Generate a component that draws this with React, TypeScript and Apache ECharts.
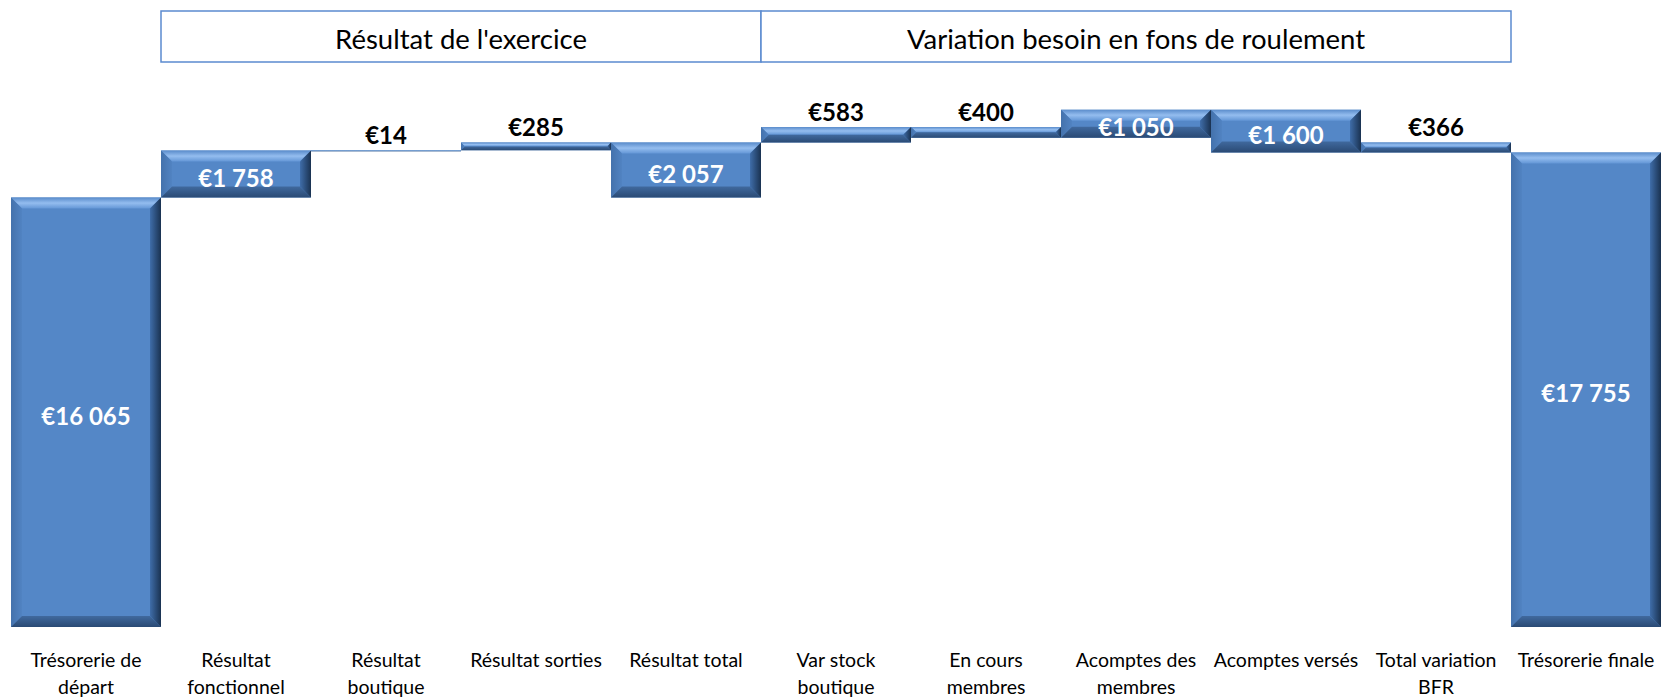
import React, { useEffect, useRef } from "react";
import * as echarts from "echarts";

const categories = [
  "Trésorerie de\ndépart",
  "Résultat\nfonctionnel",
  "Résultat\nboutique",
  "Résultat sorties",
  "Résultat total",
  "Var stock\nboutique",
  "En cours\nmembres",
  "Acomptes des\nmembres",
  "Acomptes versés",
  "Total variation\nBFR",
  "Trésorerie finale",
];
const amounts = [16065, 1758, 14, 285, 2057, 583, -400, 1050, -1600, -366, 17755];
const kinds = ["total", "delta", "delta", "delta", "subtotal", "delta", "delta", "delta", "delta", "subtotal", "total"];
const headers = [
  { label: "Résultat de l'exercice", from: 1, to: 4 },
  { label: "Variation besoin en fons de roulement", from: 5, to: 9 },
];

function buildSpans() {
  let level = 0;
  let groupStart = 0;
  const out: number[][] = [];
  amounts.forEach((v, i) => {
    const k = kinds[i];
    let lo = 0;
    let hi = 0;
    if (k === "total") {
      lo = 0;
      hi = v;
      level = v;
      groupStart = level;
    } else if (k === "delta") {
      lo = level;
      hi = level + v;
      level = hi;
    } else {
      lo = groupStart;
      hi = groupStart + v;
      level = hi;
      groupStart = level;
    }
    out.push([i, Math.min(lo, hi), Math.max(lo, hi)]);
  });
  return out;
}

function fmt(v: number) {
  const s = String(Math.abs(v)).replace(/\B(?=(\d{3})+(?!\d))/g, " ");
  return "€" + s;
}

const FONT = "Lato, 'Open Sans', sans-serif";

export default function App() {
  const ref = useRef<HTMLDivElement>(null);
  useEffect(() => {
    document.body.style.margin = "0";
    const chart = echarts.init(ref.current!, null, { renderer: "svg" });
    const spans = buildSpans();
    const renderItem = (params: any, api: any) => {
      const idx = api.value(0);
      const lo = api.value(1);
      const hi = api.value(2);
      const pLo = api.coord([idx, lo]);
      const pHi = api.coord([idx, hi]);
      const w = api.size([1, 0])[0];
      const x = pLo[0] - w / 2;
      const y = Math.min(pLo[1], pHi[1]);
      const h = Math.max(Math.abs(pLo[1] - pHi[1]), 1);
      const b = Math.min(11, h / 2, w / 2);
      const lin = (x1: number, y1: number, x2: number, y2: number, stops: [number, string][]) =>
        new echarts.graphic.LinearGradient(x1, y1, x2, y2, stops.map(([o, c]) => ({ offset: o, color: c })));
      const text = fmt(amounts[params.dataIndex]);
      const inside = h > 25;
      return {
        type: "group",
        children: [
          { type: "rect", shape: { x, y, width: w, height: h }, style: { fill: "#5487C7" } },
          {
            type: "polygon",
            shape: { points: [[x, y], [x + w, y], [x + w - b, y + b], [x + b, y + b]] },
            style: { fill: lin(0, 0, 0, 1, [[0, "#5A8CCB"], [0.5, "#94BDEF"], [1, "#6396D6"]]) },
          },
          {
            type: "polygon",
            shape: { points: [[x, y], [x + b, y + b], [x + b, y + h - b], [x, y + h]] },
            style: { fill: lin(0, 0, 1, 0, [[0, "#4472AC"], [1, "#5183C2"]]) },
          },
          {
            type: "polygon",
            shape: { points: [[x, y + h], [x + w, y + h], [x + w - b, y + h - b], [x + b, y + h - b]] },
            style: { fill: lin(0, 0, 0, 1, [[0, "#40699E"], [1, "#2A4A74"]]) },
          },
          {
            type: "polygon",
            shape: { points: [[x + w, y], [x + w - b, y + b], [x + w - b, y + h - b], [x + w, y + h]] },
            style: { fill: lin(0, 0, 1, 0, [[0, "#3F6DA9"], [1, "#1A3251"]]) },
          },
          {
            type: "text",
            x: x + w / 2,
            y: inside ? y + h / 2 + 3 : y - 4,
            style: {
              text,
              fill: inside ? "#ffffff" : "#000000",
              fontSize: 24,
              fontWeight: "bold",
              fontFamily: FONT,
              align: "center",
              verticalAlign: inside ? "middle" : "bottom",
            },
          },
        ],
      };
    };
    chart.setOption({
      animation: false,
      backgroundColor: "#ffffff",
      grid: { left: 11, right: 2, top: 92.4, bottom: 66 },
      xAxis: {
        type: "category",
        data: categories,
        axisLine: { show: false },
        axisTick: { show: false },
        axisLabel: {
          interval: 0,
          margin: 19,
          color: "#000000",
          fontSize: 19.5,
          lineHeight: 27,
          fontFamily: FONT,
        },
      },
      yAxis: { type: "value", min: 0, max: 20000, show: false },
      series: [
        {
          type: "custom",
          renderItem,
          data: spans,
          encode: { x: 0, y: [1, 2] },
        },
      ],
    });
    const graphics: any[] = [];
    headers.forEach((hd) => {
      const c1 = chart.convertToPixel({ xAxisIndex: 0 }, hd.from) as number;
      const c2 = chart.convertToPixel({ xAxisIndex: 0 }, hd.to) as number;
      const c0 = chart.convertToPixel({ xAxisIndex: 0 }, 0) as number;
      const band = (chart.convertToPixel({ xAxisIndex: 0 }, 1) as number) - c0;
      const x1 = c1 - band / 2;
      const x2 = c2 + band / 2;
      graphics.push({
        type: "rect",
        shape: { x: x1, y: 11, width: x2 - x1, height: 51 },
        style: { fill: "#ffffff", stroke: "#5B8BD0", lineWidth: 1.5 },
      });
      graphics.push({
        type: "text",
        x: (x1 + x2) / 2,
        y: 38,
        style: {
          text: hd.label,
          fill: "#000000",
          fontSize: 27.5,
          fontFamily: FONT,
          align: "center",
          verticalAlign: "middle",
        },
      });
    });
    chart.setOption({ graphic: graphics });
    return () => chart.dispose();
  }, []);
  return <div ref={ref} style={{ width: 1663, height: 700 }} />;
}
